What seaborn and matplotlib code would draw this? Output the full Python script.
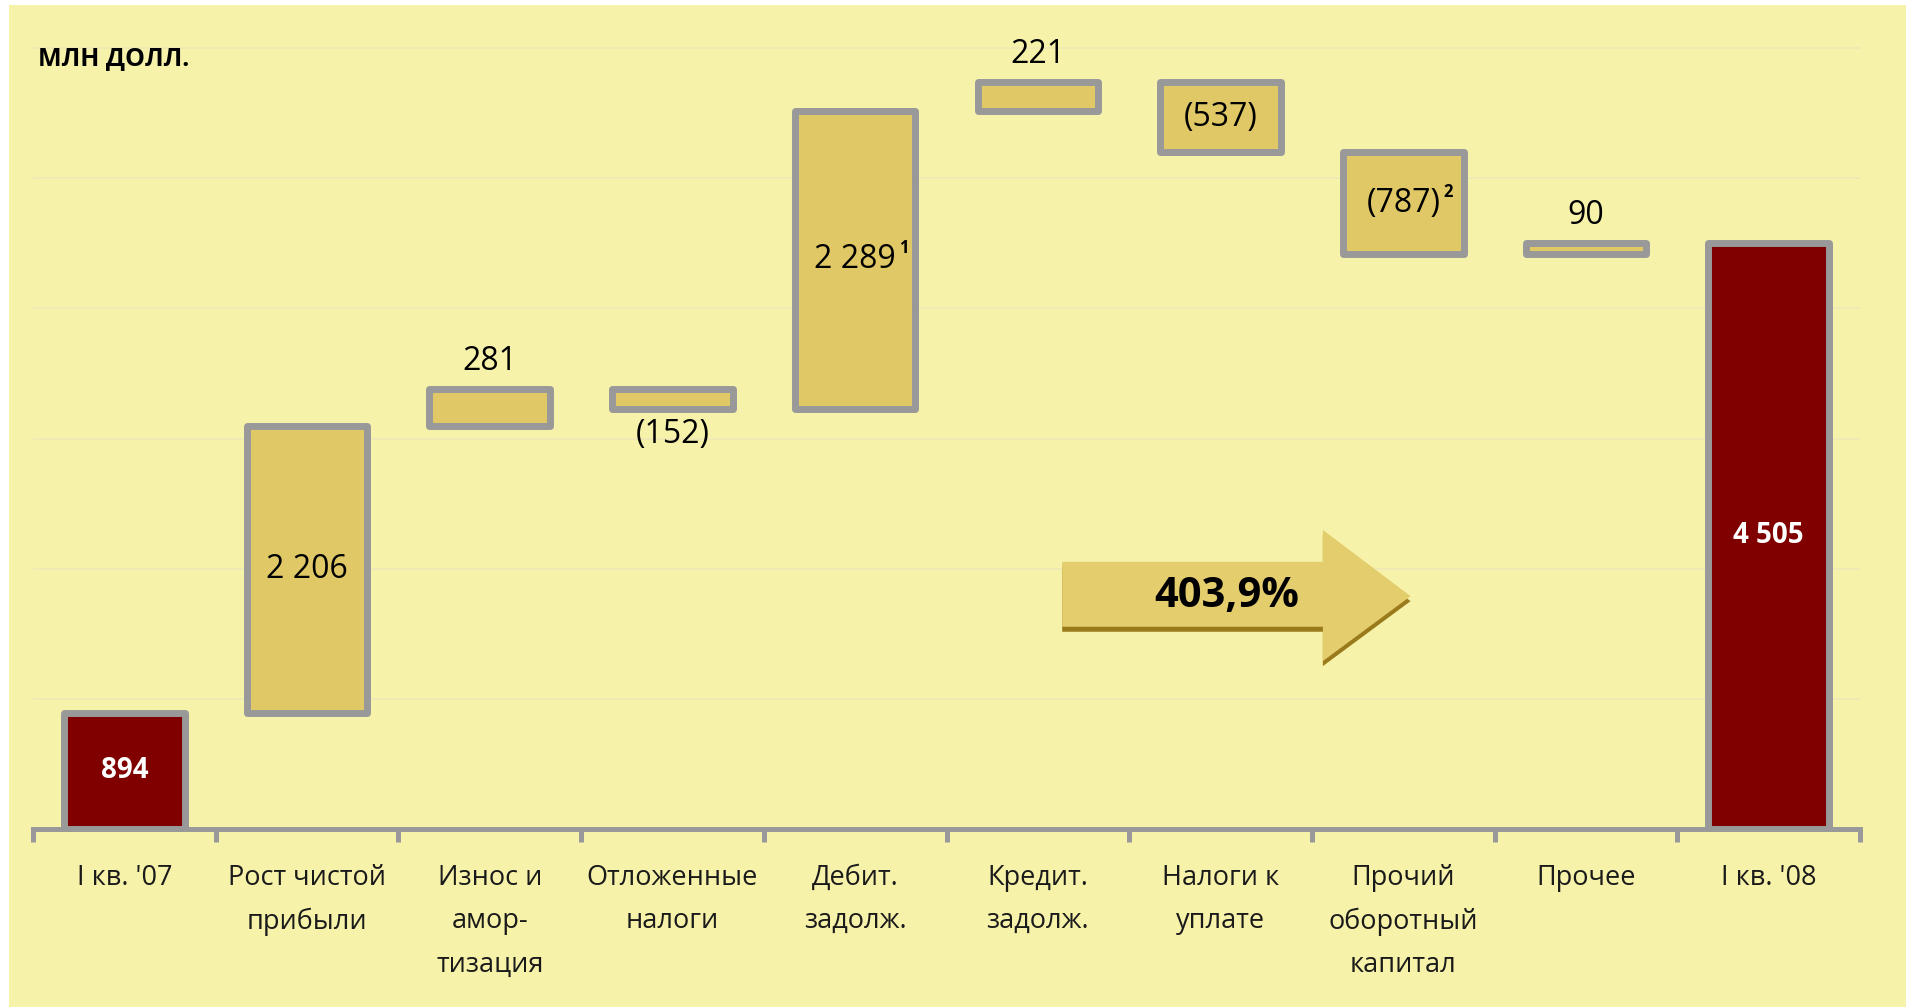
import numpy as np
import pandas as pd
import matplotlib
matplotlib.use("Agg")
import matplotlib.pyplot as plt
import matplotlib.transforms as mtransforms
from matplotlib.patches import Rectangle, Polygon
from matplotlib.ticker import MultipleLocator
import seaborn as sns

# ---------------- data ----------------
categories = ["I кв. '07", "Рост чистой\nприбыли", "Износ и\nамор-\nтизация",
              "Отложенные\nналоги", "Дебит.\nзадолж.", "Кредит.\nзадолж.",
              "Налоги к\nуплате", "Прочий\nоборотный\nкапитал", "Прочее", "I кв. '08"]
values = [894, 2206, 281, -152, 2289, 221, -537, -787, 90, 4505]
is_total = [True, False, False, False, False, False, False, False, False, True]
superscripts = ["", "", "", "", "1", "", "", "2", "", ""]
growth_label = "403,9%"
unit_title = "МЛН ДОЛЛ."

# ---------------- style ----------------
W, H = 1911, 1008
BG = "#F7F2AA"
BAR = "#DFC865"
TOTAL = "#800000"
EDGE = "#999999"
GRID = "#EEE8B6"
ARROW = "#E4CD6C"
SHADOW = "#9A7B1B"

sns.set_style("white")
plt.rcParams["font.family"] = ["Open Sans", "DejaVu Sans"]

# waterfall geometry derived from values
bottoms, heights = [], []
running = 0
for v, t in zip(values, is_total):
    if t:
        bottoms.append(0)
        heights.append(v)
        running = v
    else:
        new = running + v
        bottoms.append(min(running, new))
        heights.append(abs(v))
        running = new

df = pd.DataFrame({"category": categories, "height": heights})

fig = plt.figure(figsize=(W / 100, H / 100), dpi=100, facecolor="white")
fig.patches.append(Rectangle((9 / W, 1 - 1007 / H), (1906 - 9) / W, (1007 - 5) / H,
                             transform=fig.transFigure, facecolor=BG, edgecolor="none",
                             zorder=-10))

ax = fig.add_axes([33 / W, 1 - 829 / H, (1860 - 33) / W, 803 / H])
ax.set_zorder(1)
ax.patch.set_visible(False)

sns.barplot(data=df, x="category", y="height", bottom=bottoms, width=0.66,
            errorbar=None, color=BAR, edgecolor=EDGE, linewidth=5, ax=ax, zorder=2)

for p, t in zip(ax.patches, is_total):
    p.set_facecolor(TOTAL if t else BAR)
    p.set_edgecolor(EDGE)
    p.set_joinstyle("round")

ax.set_xlim(-0.5, len(categories) - 0.5)
ax.set_ylim(0, 6170)
ax.set_xlabel("")
ax.set_ylabel("")

# grid
ax.yaxis.set_major_locator(MultipleLocator(1000))
ax.grid(axis="y", color=GRID, linewidth=1.2)
ax.grid(axis="x", visible=False)
ax.set_axisbelow(True)
ax.tick_params(axis="y", length=0, left=False, labelleft=False)

for s in ["left", "right", "top"]:
    ax.spines[s].set_visible(False)
ax.spines["bottom"].set_color(EDGE)
ax.spines["bottom"].set_linewidth(3.6)
ax.spines["bottom"].set_zorder(3)

ax.set_xticks(range(len(categories)))
ax.set_xticklabels(categories, fontsize=19.5, color="#1a1a1a")
ax.set_xticks(np.arange(-0.5, len(categories), 1), minor=True)
ax.tick_params(axis="x", which="major", bottom=True, length=0, pad=25)
ax.tick_params(axis="x", which="minor", bottom=True, length=9, width=3.6, color=EDGE,
               direction="out")
for lbl in ax.get_xticklabels():
    lbl.set_linespacing(1.74)

# value labels
def fmt(v):
    s = f"{abs(v):,}".replace(",", " ")
    return f"({s})" if v < 0 else s

for i, (v, t, b, h, sup) in enumerate(zip(values, is_total, bottoms, heights, superscripts)):
    if t:
        txt = ax.text(i, b + h / 2, fmt(v), ha="center", va="center", fontsize=20,
                      fontweight="bold", color="white", zorder=5)
    elif h >= 400:
        txt = ax.text(i, b + h / 2, fmt(v), ha="center", va="center", fontsize=23,
                      color="black", zorder=5)
    elif v > 0:
        txt = ax.annotate(fmt(v), xy=(i, b + h), xytext=(0, 8), textcoords="offset points",
                          ha="center", va="bottom", fontsize=23, color="black", zorder=5)
    else:
        txt = ax.annotate(fmt(v), xy=(i, b), xytext=(0, -7), textcoords="offset points",
                          ha="center", va="top", fontsize=23, color="black", zorder=5)
    if sup:
        ax.annotate(sup, xy=(1, 1), xycoords=txt, xytext=(2, 3), textcoords="offset points",
                    ha="left", va="top", fontsize=12, fontweight="bold", color="black",
                    zorder=5)

# growth arrow (decoration)
arrow_pts = [(5.133, 1554), (5.133, 2053), (6.56, 2053), (6.56, 2298),
             (7.04, 1789), (6.56, 1290), (6.56, 1554)]
shadow_tr = mtransforms.offset_copy(ax.transData, fig=fig, x=0, y=-5, units="dots")
ax.add_patch(Polygon(arrow_pts, closed=True, facecolor=SHADOW, edgecolor="none",
                     transform=shadow_tr, zorder=3))
ax.add_patch(Polygon(arrow_pts, closed=True, facecolor=ARROW, edgecolor="none", zorder=4))
ax.text(6.033, 1790, growth_label, ha="center", va="center", fontsize=30,
        fontweight="bold", color="black", zorder=5)

fig.text(38 / W, 1 - 65 / H, unit_title, ha="left", va="baseline", fontsize=18,
         fontweight="bold", color="black", zorder=5)

fig.savefig("out.png", dpi=100, facecolor="white")
